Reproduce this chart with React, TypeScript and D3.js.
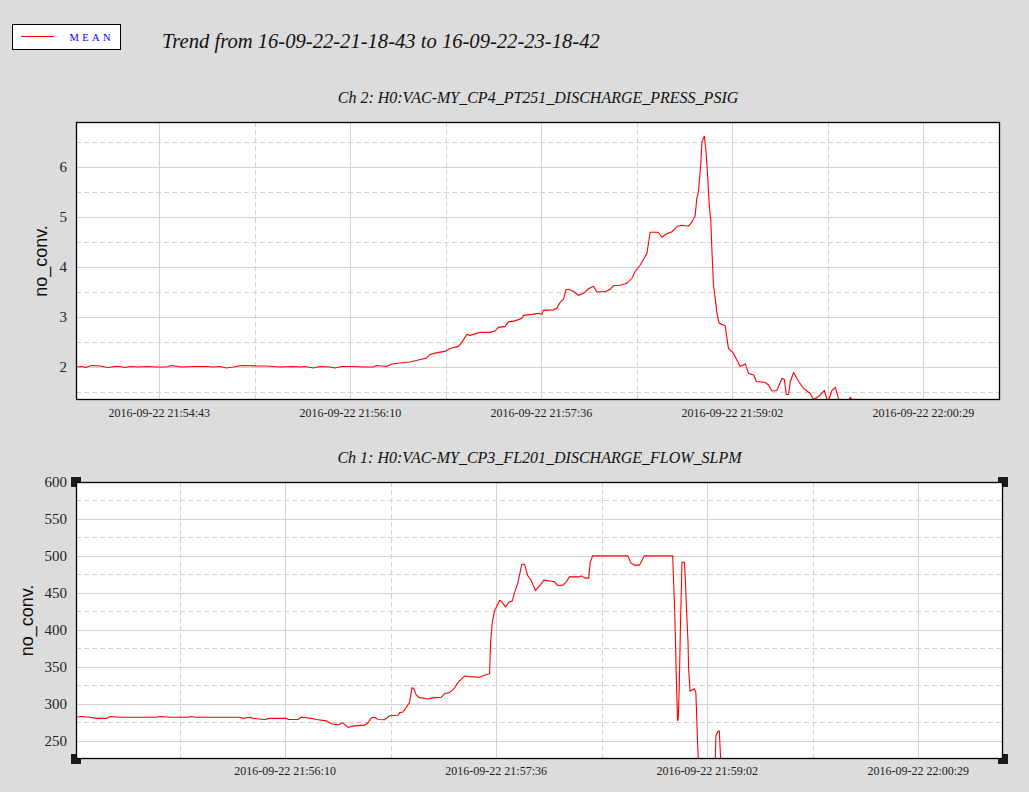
import React from "react";
import * as d3 from "d3";

// time axis: seconds after 2016-09-22 21:54:00
const BASE = new Date(2016, 8, 22, 21, 54, 0).getTime();
const toDate = (s: number) => new Date(BASE + s * 1000);

const xTickSeconds = [43.6, 130.05, 216.5, 302.95, 389.4];

const pressDomainSec = [5.9, 424.1];
const flowDomainSec = [44.4, 424.1];

const pressYDomain = [1.35, 6.9];
const pressYTicks = [2, 3, 4, 5, 6];
const pressYMinor = [1.5, 2.5, 3.5, 4.5, 5.5, 6.5];

const flowYDomain = [225, 600];
const flowYTicks = [250, 300, 350, 400, 450, 500, 550, 600];
const flowYMinor = [275, 325, 375, 425, 475, 525, 575];

const pressTimes = [
  5.9, 8.4, 10.3, 12.9, 16.7, 20.4, 23.5, 25.7, 28.0, 30.3, 34.0, 37.8, 42.3, 46.9, 49.1, 53.7,
  58.9, 65.0, 68.0, 71.0, 74.0, 77.0, 80.8, 87.6, 92.2, 98.2, 104.2, 107.3, 109.5, 113.3, 116.3,
  120.8, 123.1, 126.1, 131.4, 135.9, 140.4, 142.0, 146.5, 148.8, 152.5, 157.1, 160.8,
  164.6, 166.1, 169.9, 172.9, 175.2, 178.9, 180.5, 182.8, 184.2, 188.8, 193.3, 195.6, 197.1,
  200.1, 201.6, 204.6, 207.7, 208.4, 212.2, 215.2, 216.7, 217.4, 222.0, 223.5, 225.0, 226.5,
  227.7, 228.8, 231.0, 233.3, 235.6, 237.9, 240.1, 241.6, 245.4, 247.7, 249.1, 252.2, 255.2,
  257.5, 259.0, 261.2, 262.7, 264.3, 265.0, 265.8, 269.5, 271.1, 273.3, 275.6, 278.1, 280.1,
  283.1, 284.6, 286.1, 286.9, 287.6, 288.7, 289.2, 290.3, 291.1, 291.7, 292.6, 293.2, 293.8,
  294.4, 295.2, 296.0, 297.0, 299.7, 301.2, 303.5, 305.0, 306.5, 308.8, 310.3, 312.6, 313.8,
  317.9, 319.3, 320.9, 323.1, 325.4, 326.5, 327.4, 328.4, 329.2, 330.7, 333.0, 335.2, 338.2,
  339.7, 342.0, 344.6, 346.2, 348.0, 349.6, 351.5, 354.1, 356.4, 357.9, 362, 380, 424.1,
];
const pressValues = [
  2.01, 2.02, 2.0, 2.04, 2.03, 2.0, 2.02, 2.02, 2.0, 2.02, 2.01, 2.02, 2.01, 2.01, 2.04, 2.01,
  2.02, 2.02, 2.01, 2.02, 1.99, 2.01, 2.04, 2.03, 2.03, 2.01, 2.02, 2.01, 2.02, 1.99, 2.02,
  2.01, 1.99, 2.02, 2.02, 2.01, 2.01, 2.04, 2.02, 2.07, 2.09, 2.11, 2.15,
  2.19, 2.26, 2.3, 2.32, 2.38, 2.42, 2.5, 2.66, 2.64, 2.7, 2.7, 2.73, 2.8,
  2.82, 2.91, 2.93, 2.98, 3.04, 3.06, 3.08, 3.06, 3.14, 3.15, 3.18, 3.3, 3.36,
  3.55, 3.56, 3.52, 3.44, 3.48, 3.57, 3.62, 3.51, 3.51, 3.56, 3.63, 3.64, 3.68,
  3.78, 3.92, 4.04, 4.15, 4.28, 4.48, 4.7, 4.7, 4.6, 4.67, 4.71, 4.82, 4.84,
  4.82, 4.9, 5.02, 5.38, 5.5, 6.08, 6.5, 6.62, 6.28, 5.88, 5.18, 4.95, 4.25,
  3.65, 3.38, 3.08, 2.88, 2.83, 2.38, 2.28, 2.15, 2.02, 2.07, 1.88, 1.85, 1.72,
  1.7, 1.65, 1.53, 1.54, 1.78, 1.76, 1.46, 1.46, 1.72, 1.9, 1.72, 1.58, 1.48,
  1.36, 1.42, 1.54, 1.3, 1.54, 1.6, 1.3, 1.25, 1.4, 1.3, 1.2, 1.15, 1.1,
];

const flowTimes = [
  44.4, 46.7, 50.1, 52.8, 56.9, 58.3, 62.4, 77.4, 78.7, 83.5, 90.3, 91.7, 93.1, 111.5, 112.8,
  115.6, 116.9, 121.7, 123.8, 130.6, 131.2, 135.3, 136.7, 140.8, 142.9, 147.0, 149.0, 151.7,
  153.7, 155.8, 157.8, 162.6, 164.0, 165.4, 166.7, 168.1, 170.8, 172.9, 176.3, 177.0, 178.3,
  180.3, 181.0, 182.0, 182.7, 183.8, 185.1, 188.5, 190.6, 194.0, 195.4, 197.4, 199.5, 200.8,
  202.2, 203.5, 205.6, 209.7, 211.7, 213.8, 214.2, 214.9, 215.8, 217.9, 218.6, 220.3, 221.7,
  223.1, 224.0, 225.4, 227.0, 228.1, 229.4, 230.8, 232.6, 234.2, 236.1, 238.3, 240.3, 241.7,
  243.8, 245.2, 246.5, 250.6, 251.3, 253.1, 254.4, 255.0, 256.0, 270.4, 271.7, 273.1, 275.2,
  277.2, 288.8, 289.5, 289.9, 290.2, 290.8, 291.1, 291.5, 291.9, 292.6, 293.6, 294.0, 294.5,
  295.1, 295.3, 295.9, 297.7, 298.3, 299.0, 299.4, 306.2, 306.5, 307.2, 307.9, 308.6, 312,
  424.1,
];
const flowValues = [
  281.5, 282.5, 281.5, 280, 280, 282.5, 281.5, 281.5, 282.5, 281.5, 281.5, 282.5, 281.5, 281.5, 280,
  281.5, 280, 278.5, 280, 280, 278.5, 278.5, 281.5, 280, 278.5, 276.6, 272.6, 271.2,
  274, 267.7, 269.5, 270.8, 274, 280.8, 281.5, 278.5, 278.2, 283.6, 284.2, 287.8, 288.5,
  298, 301, 321.3, 320.7, 311.3, 308.1, 306.3, 307.7, 308.6, 313.5, 314.9, 321.2, 328.4,
  332.9, 337.4, 336.5, 335.6, 338.3, 340.5, 382.4, 409.5, 425.2, 439.6, 438.7, 431, 437.4,
  438.7, 450, 463.5, 488.7, 488.7, 473.4, 467.1, 453.2, 459, 467.1, 466.2, 464.9, 459.9,
  460.4, 464.9, 471.6, 471.6, 473, 469.8, 469.8, 490.5, 500, 500, 490.5, 487.4, 487.4,
  500, 500, 436.5, 391.4, 346.4, 276.5, 280, 323.8, 391.4, 491.4, 491.4, 468, 425.1,
  382.4, 348.6, 317, 320, 314.6, 247.3, 215, 215, 256.2, 261.6, 262.9, 215, 200,
  190,
];

const SERIF = "'Liberation Serif', 'Times New Roman', serif";
const SANS = "'Liberation Sans', Arial, sans-serif";
const fmt = d3.timeFormat("%Y-%m-%d %H:%M:%S");
const GRID = "#d2d2d2";

type PanelProps = {
  id: string;
  left: number; right: number; top: number; bottom: number;
  xDomain: number[]; yDomain: number[];
  yTicks: number[]; yMinor: number[];
  times: number[]; values: number[];
  title: string; titleY: number; yLabelX: number; xLabelY: number;
  handles?: boolean;
};

function Panel(p: PanelProps) {
  const x = d3.scaleTime().domain([toDate(p.xDomain[0]), toDate(p.xDomain[1])]).range([p.left, p.right]);
  const y = d3.scaleLinear().domain(p.yDomain).range([p.bottom, p.top]);
  const inX = (s: number) => s >= p.xDomain[0] && s <= p.xDomain[1];
  const majors = xTickSeconds.filter(inX);
  const minorAll: number[] = [];
  const step = xTickSeconds[1] - xTickSeconds[0];
  minorAll.push(xTickSeconds[0] - step / 2);
  xTickSeconds.forEach((s) => minorAll.push(s + step / 2));
  const minors = minorAll.filter(inX);
  const line = d3
    .line<number>()
    .x((_, i) => x(toDate(p.times[i])))
    .y((v) => y(v))
    .curve(d3.curveLinear);
  const r = (v: number) => Math.round(v) + 0.5;
  const cx = (p.left + p.right) / 2;
  const cy = (p.top + p.bottom) / 2;
  const hs = 10;
  const corners = [
    [p.left, p.top], [p.right, p.top], [p.left, p.bottom], [p.right, p.bottom],
  ];
  return (
    <g>
      <defs>
        <clipPath id={p.id}>
          <rect x={p.left} y={p.top} width={p.right - p.left} height={p.bottom - p.top} />
        </clipPath>
      </defs>
      <text x={cx} y={p.titleY} textAnchor="middle" fontFamily={SERIF} fontStyle="italic" fontSize={16} fill="#111">
        {p.title}
      </text>
      {p.handles &&
        corners.map(([hx, hy], i) => (
          <rect key={"h" + i} x={hx - hs / 2} y={hy - hs / 2} width={hs} height={hs} fill="#1a1a1a" />
        ))}
      <rect x={p.left} y={p.top} width={p.right - p.left} height={p.bottom - p.top} fill="#fff" />
      {p.yMinor.map((v) => (
        <line key={"ym" + v} x1={p.left} x2={p.right} y1={r(y(v))} y2={r(y(v))} stroke={GRID} strokeDasharray="5,3" />
      ))}
      {p.yTicks.map((v) => (
        <line key={"yt" + v} x1={p.left} x2={p.right} y1={r(y(v))} y2={r(y(v))} stroke={GRID} />
      ))}
      {minors.map((s) => (
        <line key={"xm" + s} y1={p.top} y2={p.bottom} x1={r(x(toDate(s)))} x2={r(x(toDate(s)))} stroke={GRID} strokeDasharray="5,3" />
      ))}
      {majors.map((s) => (
        <line key={"xt" + s} y1={p.top} y2={p.bottom} x1={r(x(toDate(s)))} x2={r(x(toDate(s)))} stroke={GRID} />
      ))}
      <path d={line(p.values) || ""} fill="none" stroke="#ff0000" strokeWidth={1.1} clipPath={`url(#${p.id})`} />
      <rect x={p.left + 0.5} y={p.top + 0.5} width={p.right - p.left - 1} height={p.bottom - p.top - 1} fill="none" stroke="#000" strokeWidth={1.3} />
      {p.yTicks.map((v) => (
        <text key={"yl" + v} x={67} y={y(v) + 5} textAnchor="end" fontFamily={SERIF} fontSize={15} fill="#222">
          {v}
        </text>
      ))}
      {majors.map((s) => (
        <text key={"xl" + s} x={x(toDate(s))} y={p.xLabelY} textAnchor="middle" fontFamily={SERIF} fontSize={12} fill="#222">
          {fmt(toDate(s))}
        </text>
      ))}
      <text transform={`translate(${p.yLabelX},${cy}) rotate(-90)`} textAnchor="middle" fontFamily={SANS} fontSize={18} fill="#111">
        no_conv.
      </text>
    </g>
  );
}

export default function App() {
  return (
    <svg width={1029} height={792} style={{ position: "absolute", left: 0, top: 0, display: "block" }}>
      <rect x={0} y={0} width={1029} height={792} fill="#dcdcdc" />
      <rect x={12.5} y={24.5} width={108} height={25} fill="#fff" stroke="#000" strokeWidth={1} />
      <line x1={21} x2={54} y1={36.5} y2={36.5} stroke="#ff0000" strokeWidth={1} />
      <text x={69.5} y={40.5} fontFamily={SERIF} fontSize={10.5} letterSpacing={3.4} fill="#0000ff">MEAN</text>
      <text x={162} y={48} fontFamily={SERIF} fontStyle="italic" fontSize={20.6} fill="#111">
        Trend from 16-09-22-21-18-43 to 16-09-22-23-18-42
      </text>
      <Panel
        id="clipTop"
        left={76} right={1000} top={122} bottom={400}
        xDomain={pressDomainSec} yDomain={pressYDomain}
        yTicks={pressYTicks} yMinor={pressYMinor}
        times={pressTimes} values={pressValues}
        title="Ch 2: H0:VAC-MY_CP4_PT251_DISCHARGE_PRESS_PSIG" titleY={103}
        yLabelX={47} xLabelY={416.5}
      />
      <Panel
        id="clipBottom"
        left={76} right={1003} top={482} bottom={759}
        xDomain={flowDomainSec} yDomain={flowYDomain}
        yTicks={flowYTicks} yMinor={flowYMinor}
        times={flowTimes} values={flowValues}
        title="Ch 1: H0:VAC-MY_CP3_FL201_DISCHARGE_FLOW_SLPM" titleY={463}
        yLabelX={33} xLabelY={775}
        handles
      />
    </svg>
  );
}
